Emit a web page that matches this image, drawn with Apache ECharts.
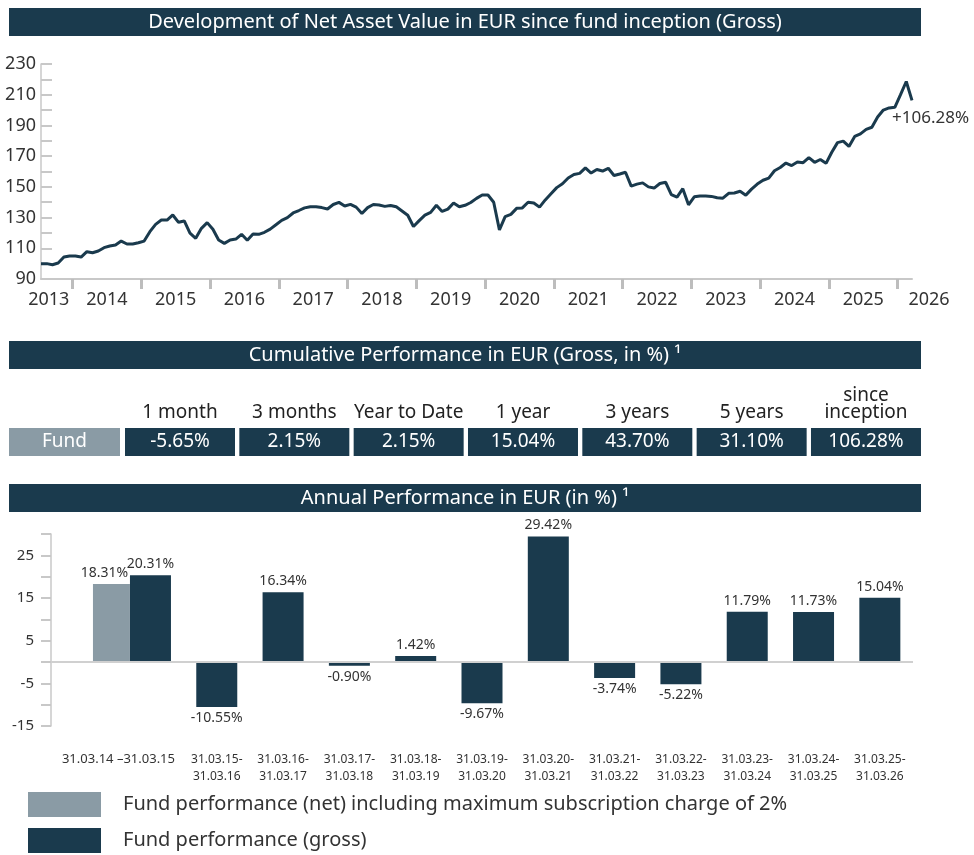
<!DOCTYPE html>
<html><head><meta charset="utf-8">
<script src="https://cdn.jsdelivr.net/npm/echarts@6/dist/echarts.min.js"></script>
<style>html,body{margin:0;padding:0;background:#fff}#c{width:974px;height:855px}</style>
</head><body><div id="c"></div>
<script>
// ---------- DATA ----------
const navStartYear = 2013, navStartMonth = 7; // first month-end value: July 2013
const nav = [
 100.0,100.0,99.3,100.4,104.3,105.0,105.0,104.3,107.8,107.1,108.2,110.4,
 111.5,112.1,114.7,112.8,112.8,113.6,114.7,120.8,125.6,128.4,128.4,131.7,
 126.9,127.8,119.8,116.5,123.0,126.7,122.4,115.4,113.2,115.4,116.0,119.1,
 115.2,119.3,119.1,120.4,122.5,125.3,128.2,130.0,133.0,134.6,136.3,137.1,
 137.1,136.5,135.6,138.5,139.9,137.5,138.6,136.8,132.6,136.5,138.5,138.2,
 137.3,137.9,137.0,134.3,131.5,124.2,128.0,131.6,133.4,138.0,134.0,135.5,
 139.5,137.0,138.0,139.8,142.5,144.7,144.7,140.0,122.0,130.6,132.1,136.0,
 136.3,140.0,139.5,136.8,141.5,145.5,149.5,152.0,155.8,158.0,158.8,162.3,
 159.0,161.3,160.3,162.1,157.4,158.4,159.5,150.5,151.8,152.6,150.0,149.2,
 152.2,153.0,145.0,143.3,148.8,138.3,143.5,144.1,144.0,143.8,142.9,142.6,
 145.8,146.0,147.1,144.6,148.5,151.8,154.3,155.7,160.5,162.6,165.5,163.9,
 166.2,165.7,169.0,166.0,167.8,165.3,172.5,178.8,179.8,176.3,182.8,184.5,
 187.4,188.8,195.5,200.0,201.4,201.8,210.0,218.6,206.28
];
const yearLabels = [2013,2014,2015,2016,2017,2018,2019,2020,2021,2022,2023,2024,2025,2026];

const periods = ['1 month','3 months','Year to Date','1 year','3 years','5 years','since\ninception'];
const fundRowLabel = 'Fund';
const fundCumulative = ['-5.65%','2.15%','2.15%','15.04%','43.70%','31.10%','106.28%'];

const annualCategories = ['31.03.14 \u201331.03.15','31.03.15-\n31.03.16','31.03.16-\n31.03.17','31.03.17-\n31.03.18',
  '31.03.18-\n31.03.19','31.03.19-\n31.03.20','31.03.20-\n31.03.21','31.03.21-\n31.03.22','31.03.22-\n31.03.23',
  '31.03.23-\n31.03.24','31.03.24-\n31.03.25','31.03.25-\n31.03.26'];
const annualGross = [20.31,-10.55,16.34,-0.90,1.42,-9.67,29.42,-3.74,-5.22,11.79,11.73,15.04];
const annualNet   = [18.31,null,null,null,null,null,null,null,null,null,null,null];
const netName = 'Fund performance (net) including maximum subscription charge of 2%';
const grossName = 'Fund performance (gross)';
const titles = ['Development of Net Asset Value in EUR since fund inception (Gross)',
  'Cumulative Performance in EUR (Gross, in %) \u00b9',
  'Annual Performance in EUR (in %) \u00b9'];

// ---------- STYLE ----------
const NAVY = '#1a3a4d', GREY = '#8a9ba5', TXT = '#333', AX = '#c8c8c8';
const FONT = '"Noto Sans", sans-serif';

// month index helpers
const lastIdx = nav.length - 1;
function yearStartIdx(y){ return (y - 1 - navStartYear) * 12 + (12 - navStartMonth) + 0.5; }
function idxYear(i){ return navStartYear + Math.floor((i + navStartMonth) / 12); }
const tickVals = yearLabels.map(yearStartIdx).filter(v => v > 0 && v < lastIdx);
const labelVals = yearLabels.map(y => {
  const a = Math.max(0, yearStartIdx(y)), b = Math.min(lastIdx, yearStartIdx(y + 1));
  return y === yearLabels[yearLabels.length-1] ? lastIdx : (a + b) / 2;
});

// ---------- GRAPHICS (header bars + table) ----------
const graphics = [];
[[8,0],[341,1],[484,2]].forEach(([y,k]) => {
  graphics.push({type:'rect', shape:{x:9,y:y,width:912,height:28}, style:{fill:NAVY}, silent:true});
  graphics.push({type:'text', x:465, y:y+14, silent:true,
    style:{text:titles[k], fill:'#fff', fontSize:20, fontFamily:FONT, align:'center', verticalAlign:'middle'}});
});
graphics.push({type:'rect', shape:{x:9,y:428,width:111,height:28}, style:{fill:GREY}, silent:true});
graphics.push({type:'text', x:64.5, y:442, silent:true,
  style:{text:fundRowLabel, fill:'#fff', fontSize:19, fontFamily:FONT, align:'center', verticalAlign:'middle'}});
periods.forEach((p,k) => {
  const x0 = 125 + k * 114.33;
  graphics.push({type:'text', x:x0+55, y:421, silent:true,
    style:{text:p, fill:'#222', fontSize:19, lineHeight:17, fontFamily:FONT, align:'center', verticalAlign:'bottom'}});
  graphics.push({type:'rect', shape:{x:x0,y:428,width:110,height:28}, style:{fill:NAVY}, silent:true});
  graphics.push({type:'text', x:x0+55, y:442, silent:true,
    style:{text:fundCumulative[k], fill:'#fff', fontSize:19, fontFamily:FONT, align:'center', verticalAlign:'middle'}});
});

// ---------- CHART ----------
const chart = echarts.init(document.getElementById('c'), null, {renderer:'canvas'});
const catData = [''].concat(annualCategories);
const legendBase = {orient:'vertical', left:28, padding:0, itemWidth:73, itemHeight:25, icon:'rect', selectedMode:false,
  textStyle:{fontSize:20, color:TXT, fontFamily:FONT, padding:[0,0,0,17]}};
const option = {
  animation: false,
  textStyle: {fontFamily: FONT},
  graphic: graphics,
  legend: [
    Object.assign({data:[netName], top:792}, legendBase),
    Object.assign({data:[grossName], top:828}, legendBase)
  ],
  grid: [
    {left:41, right:62, top:64, height:215},
    {left:51, right:61, top:534, height:192}
  ],
  xAxis: [
    {gridIndex:0, type:'value', min:0, max:lastIdx,
     axisLine:{show:true, lineStyle:{color:AX, width:2}},
     axisTick:{show:true, customValues:tickVals, length:10, lineStyle:{color:'#bdbdbd', width:3}},
     axisLabel:{customValues:labelVals, margin:12, fontSize:18, color:TXT, fontFamily:FONT,
       formatter: v => {
         if (v === lastIdx) return '{r|' + yearLabels[yearLabels.length-1] + '}';
         const y = idxYear(v);
         return y === yearLabels[0] ? '{f|' + y + '}' : String(y); },
       rich:{r:{fontSize:18, color:TXT, fontFamily:FONT, padding:[0,0,0,34]},
             f:{fontSize:18, color:TXT, fontFamily:FONT, padding:[0,16,0,0]}}},
     splitLine:{show:false}},
    {gridIndex:1, type:'category', data:catData, position:'bottom',
     axisLine:{show:false, onZero:false}, axisTick:{show:false},
     axisLabel:{interval:0, margin:25, fontSize:12, lineHeight:17, color:TXT, fontFamily:FONT,
       formatter:(v,i) => i === 1 ? '{a|' + v + '}' : v,
       rich:{a:{fontSize:13, color:TXT, fontFamily:FONT, padding:[0,64,0,0]}}}},
    {gridIndex:1, type:'category', data:catData, show:false}
  ],
  yAxis: [
    {gridIndex:0, type:'value', min:90, max:230, interval:10,
     axisLine:{show:true, lineStyle:{color:AX, width:1.5}},
     axisTick:{show:true, inside:true, length:11, lineStyle:{color:AX, width:2}},
     axisLabel:{margin:5, fontSize:18, color:TXT, fontFamily:FONT,
       formatter: v => ((v - 90) % 20 === 0 ? String(v) : '')},
     splitLine:{show:false}},
    {gridIndex:1, type:'value', min:-15, max:30, interval:5,
     axisLine:{show:true, lineStyle:{color:AX, width:1.5}},
     axisTick:{show:true, length:10, lineStyle:{color:AX, width:2}},
     axisLabel:{margin:17, fontSize:15, color:TXT, fontFamily:FONT,
       formatter: v => (Math.abs(v / 5) % 2 === 1 ? String(v) : '')},
     splitLine:{show:false}}
  ],
  series: [
    {type:'line', name:'NAV', xAxisIndex:0, yAxisIndex:0,
     data: nav.map((v,i) => [i, v]), showSymbol:false, symbol:'none',
     lineStyle:{color:NAVY, width:3}, itemStyle:{color:NAVY},
     endLabel:{show:true, offset:[-28,18], fontSize:17, color:TXT, fontFamily:FONT,
       formatter: () => '+' + ((nav[lastIdx] / nav[0] - 1) * 100).toFixed(2) + '%'}},
    {type:'bar', name:grossName, xAxisIndex:1, yAxisIndex:1, barWidth:41, z:3,
     itemStyle:{color:NAVY},
     data: [null].concat(annualGross.map(v => ({value:v, label:{position: v >= 0 ? 'top' : 'bottom'}}))),
     label:{show:true, fontSize:14, color:TXT, fontFamily:FONT, distance:4,
       formatter: p => p.value.toFixed(2) + '%'},
     markLine:{silent:true, symbol:'none', label:{show:false},
       lineStyle:{color:'#d0d0d0', width:2, type:'solid'}, data:[{yAxis:0}]}},
    {type:'bar', name:netName, xAxisIndex:2, yAxisIndex:1, barWidth:37, barGap:0, z:3,
     itemStyle:{color:GREY},
     data: [null].concat(annualNet),
     label:{show:true, position:'top', offset:[-7,0], fontSize:14, color:TXT, fontFamily:FONT, distance:4,
       formatter: p => p.value.toFixed(2) + '%'}},
    {type:'bar', name:'_spacer', xAxisIndex:2, yAxisIndex:1, barWidth:78, barGap:0, silent:true, data:[]}
  ]
};
chart.setOption(option);
</script></body></html>
